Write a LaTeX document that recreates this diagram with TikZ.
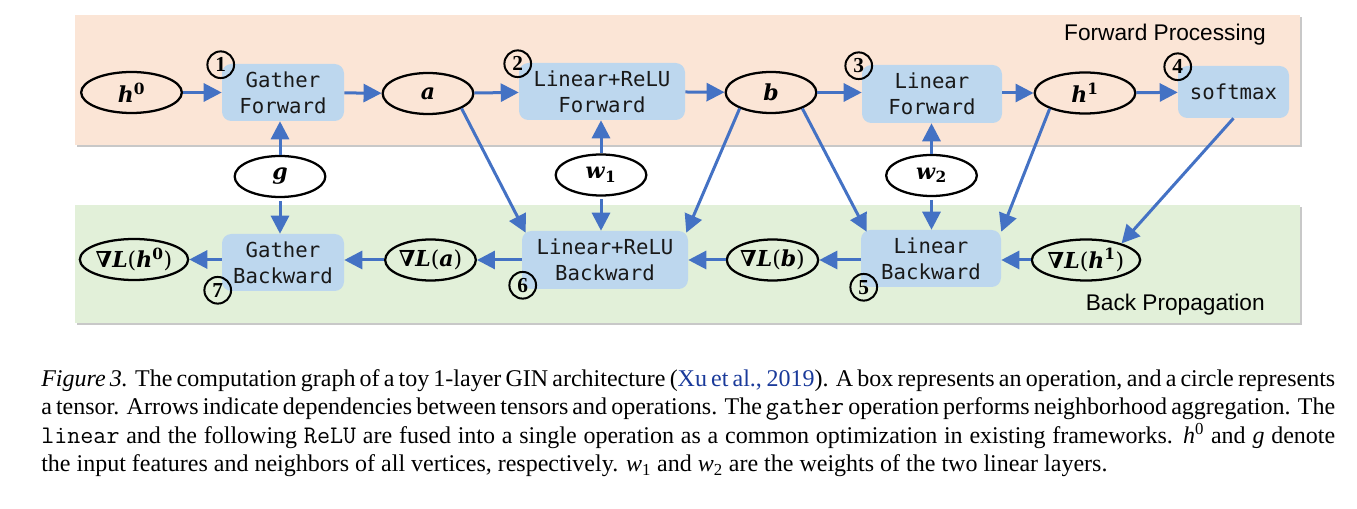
\documentclass[tikz,border=0pt]{standalone}
\usepackage{fontspec}
\setmainfont{Liberation Serif}
\newfontfamily\opfont{DejaVu Sans Mono}
\newfontfamily\tenfont{DejaVu Serif}
\newfontfamily\bandfont{Liberation Sans}
\usetikzlibrary{arrows.meta,shapes.geometric}
\definecolor{peach}{HTML}{FBE5D6}
\definecolor{mint}{HTML}{E2F0D9}
\definecolor{opblue}{HTML}{BDD7EE}
\definecolor{arrowblue}{HTML}{4472C4}
\definecolor{linkblue}{HTML}{1A3A9A}
\definecolor{shadowgray}{HTML}{C8C8C8}
\newcommand{\bi}[1]{\textbf{\textit{#1}}}
\newcommand{\captt}[1]{{\fontsize{19pt}{21pt}\selectfont\ttfamily #1}}
\tikzset{
  op/.style={rectangle, rounded corners=7pt, fill=opblue, inner sep=0pt, align=center,
    font=\opfont\fontsize{15.5pt}{19.5pt}\selectfont, text=black!90},
  ten/.style={ellipse, draw=black, line width=1.7pt, inner sep=0pt,
    minimum height=30.75pt, font=\tenfont\fontsize{16.5pt}{18pt}\selectfont},
  tensm/.style={ten, minimum width=68pt},
  tenlg/.style={ten, minimum width=75.5pt},
  num/.style={circle, draw=black, line width=1.5pt, inner sep=0pt, minimum size=20pt,
    font=\fontsize{16pt}{16pt}\selectfont\bfseries},
  arr/.style={draw=arrowblue, line width=2.25pt, -{Triangle[length=13.5pt,width=13.5pt]}},
  bandlabel/.style={inner sep=0pt, font=\bandfont\fontsize{17pt}{20pt}\selectfont},
  captext/.style={inner sep=0pt, anchor=base west, font=\fontsize{18pt}{21pt}\selectfont}
}
\begin{document}
\begin{tikzpicture}[x=0.75pt,y=-0.75pt]
\useasboundingbox (0,0) rectangle (1357,509);
% bands
\fill[shadowgray] (77,17) rectangle (1302,147);
\fill[peach] (75,15) rectangle (1300,145);
\fill[shadowgray] (77,207) rectangle (1302,325);
\fill[mint] (75,205) rectangle (1300,323);
\node[bandlabel] (fp) at (1165,35) {Forward Processing};
\node[bandlabel, anchor=east] (bp) at (1265,305) {Back Propagation};
% operations
\node[op, minimum width=91.5pt, minimum height=42.75pt] (GF) at (283,92.5) {Gather\\Forward};
\node[op, minimum width=124.5pt, minimum height=42.75pt] (LRF) at (602,91.5) {Linear+ReLU\\Forward};
\node[op, minimum width=105pt, minimum height=43.5pt] (LF) at (932,94) {Linear\\Forward};
\node[op, minimum width=83.25pt, minimum height=39pt] (SM) at (1233.5,92) {softmax};
\node[op, minimum width=91.5pt, minimum height=42.75pt] (GB) at (283,262.5) {Gather\\Backward};
\node[op, minimum width=124.5pt, minimum height=43.5pt] (LRB) at (605,260) {Linear+ReLU\\Backward};
\node[op, minimum width=105pt, minimum height=42.75pt] (LB) at (931,258.5) {Linear\\Backward};
% tensors
\node[tenlg] (h0) at (131.5,92.5) {\bi{h}\textsuperscript{\textbf{0}}};
\node[tensm] (a) at (428,93.5) {\bi{a}};
\node[tensm] (b) at (771,92.5) {\bi{b}};
\node[tenlg] (h1) at (1085,93) {\bi{h}\textsuperscript{\textbf{1}}};
\node[tensm] (g) at (280,176.5) {\bi{g}};
\node[tensm] (w1) at (601,175) {\bi{w}\textsubscript{\textbf{1}}};
\node[tensm] (w2) at (931.5,175.5) {\bi{w}\textsubscript{\textbf{2}}};
\node[tenlg] (gh0) at (134,259.5) {\bi{∇L}(\bi{h}\textsuperscript{\textbf{0}})};
\node[tensm] (ga) at (430.5,260) {\bi{∇L}(\bi{a})};
\node[tensm] (gb) at (772.5,260) {\bi{∇L}(\bi{b})};
\node[tenlg] (gh1) at (1086,260) {\bi{∇L}(\bi{h}\textsuperscript{\textbf{1}})};
% step numbers
\node[num] (n1) at ([shift={(-1,1)}]GF.north west) {1};
\node[num] (n2) at ([shift={(-1,1)}]LRF.north west) {2};
\node[num] (n3) at ([shift={(-3,1)}]LF.north west) {3};
\node[num] (n4) at ([shift={(0,1)}]SM.north west) {4};
\node[num] (n7) at ([shift={(-4,-1)}]GB.south west) {7};
\node[num] (n6) at ([shift={(1,-4)}]LRB.south west) {6};
\node[num] (n5) at ([shift={(3,0)}]LB.south west) {5};
% forward arrows
\draw[arr] (h0) -- (GF);
\draw[arr] (GF) -- (a);
\draw[arr] (a) -- (LRF);
\draw[arr] (LRF) -- (b);
\draw[arr] (b) -- (b -| LF.west);
\draw[arr] (LF.east |- h1) -- (h1);
\draw[arr] (h1) -- (SM);
% weights / neighbours
\draw[arr] (g.north) -- (g.north |- GF.south);
\draw[arr, shorten <=2pt] (g.south) -- (g.south |- GB.north);
\draw[arr] (w1.north) -- (w1.north |- LRF.south);
\draw[arr, shorten <=2pt] (w1.south) -- (w1.south |- LRB.north);
\draw[arr] (w2.north) -- (w2.north |- LF.south);
\draw[arr, shorten <=2pt] (w2.south) -- (w2.south |- LB.north);
% cross arrows
\draw[arr] (a.-24) -- ([shift={(4,2)}]LRB.north west);
\draw[arr] (b.-153) -- ([shift={(-2,2)}]LRB.north east);
\draw[arr] (b.-27) -- ([shift={(6,2)}]LB.north west);
\draw[arr] (h1.-156) -- ([shift={(0,2)}]LB.north east);
\draw[arr] (SM.south) -- (gh1.25);
% backward arrows
\draw[arr] (gh1) -- (gh1 -| LB.east);
\draw[arr] (LB.west |- gb) -- (gb);
\draw[arr] (gb) -- (LRB);
\draw[arr] (LRB) -- (ga);
\draw[arr] (ga) -- (ga -| GB.east);
\draw[arr] (GB.west |- gh0) -- (gh0);
% caption
\node[captext] (c1) at (41,386.7) {\makebox[970.5pt][s]{\textit{Figure 3.} The computation graph of a toy 1-layer GIN architecture (\textcolor{linkblue}{Xu et al., 2019}). A box represents an operation, and a circle represents}};
\node[captext] (c2) at (41,415) {\makebox[970.5pt][s]{a tensor. Arrows indicate dependencies between tensors and operations. The \captt{gather} operation performs neighborhood aggregation. The}};
\node[captext] (c3) at (41,443.3) {\makebox[970.5pt][s]{\captt{linear} and the following \captt{ReLU} are fused into a single operation as a common optimization in existing frameworks. \textit{h}\textsuperscript{0} and \textit{g} denote}};
\node[captext] (c4) at (41,471.7) {the input features and neighbors of all vertices, respectively. \textit{w}\textsubscript{1} and \textit{w}\textsubscript{2} are the weights of the two linear layers.};
\end{tikzpicture}
\end{document}
